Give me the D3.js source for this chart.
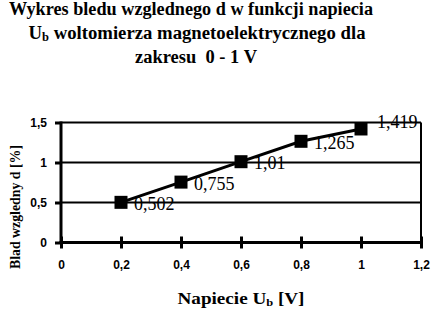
<!DOCTYPE html>
<html lang="en">
<head>
    <meta charset="UTF-8">
    <title>Wykres bledu wzglednego</title>
    <script type="text/javascript" src="https://cdn.jsdelivr.net/npm/d3@7"></script>
    <style>
        body { margin: 0; background: #fff; }
    </style>
</head>
<body>
<script type="text/javascript">
    var w = 434;
    var h = 311;

    // data
    var voltages = [0.2, 0.4, 0.6, 0.8, 1];
    var errors = [0.502, 0.755, 1.01, 1.265, 1.419];
    var errorLabels = ["0,502", "0,755", "1,01", "1,265", "1,419"];
    var xTicks = [0, 0.2, 0.4, 0.6, 0.8, 1, 1.2];
    var yTicks = [0, 0.5, 1, 1.5];

    var plot = {left: 61, right: 421, top: 122.5, bottom: 242.5};

    var svg = d3.select("body")
        .append("svg")
        .attr("width", w)
        .attr("height", h);

    var xScale = d3.scaleLinear()
        .domain([0, 1.2])
        .range([plot.left, plot.right]);

    var yScale = d3.scaleLinear()
        .domain([0, 1.5])
        .range([plot.bottom, plot.top]);

    var fmt = function (d) {
        return String(d).replace(".", ",");
    };

    // title
    var serif = "'Liberation Serif', 'Times New Roman', serif";
    var title = svg.append("g")
        .attr("font-family", serif)
        .attr("font-weight", "bold")
        .attr("font-size", "18px")
        .attr("text-anchor", "middle");

    title.append("text")
        .attr("x", 191).attr("y", 15)
        .attr("textLength", 364).attr("lengthAdjust", "spacingAndGlyphs")
        .text("Wykres bledu wzglednego d w funkcji napiecia");

    var t2 = title.append("text")
        .attr("x", 197).attr("y", 39)
        .attr("textLength", 337).attr("lengthAdjust", "spacingAndGlyphs");
    t2.append("tspan").text("U");
    t2.append("tspan").attr("font-size", "12px").attr("dy", 2).text("b");
    t2.append("tspan").attr("dy", -2).text(" woltomierza magnetoelektrycznego dla");

    title.append("text")
        .attr("x", 196).attr("y", 63)
        .attr("textLength", 122).attr("lengthAdjust", "spacingAndGlyphs")
        .attr("xml:space", "preserve")
        .text("zakresu  0 - 1 V");

    // gridlines
    svg.append("g")
        .selectAll("line")
        .data(yTicks.slice(1)).enter()
        .append("line")
        .attr("x1", plot.left).attr("x2", plot.right)
        .attr("y1", function (d) { return yScale(d); })
        .attr("y2", function (d) { return yScale(d); })
        .attr("stroke", "black")
        .attr("stroke-width", 2);

    // right border
    svg.append("line")
        .attr("x1", plot.right).attr("x2", plot.right)
        .attr("y1", plot.top).attr("y2", plot.bottom)
        .attr("stroke", "black")
        .attr("stroke-width", 2);

    // axes
    var xAxis = d3.axisBottom(xScale)
        .tickValues(xTicks)
        .tickSize(6)
        .tickPadding(12)
        .tickFormat(fmt);

    var gx = svg.append("g")
        .attr("transform", "translate(0," + plot.bottom + ")")
        .call(xAxis);
    gx.select(".domain").remove();
    gx.selectAll(".tick line")
        .attr("y1", -6)
        .attr("stroke-width", 3);

    svg.append("line")
        .attr("x1", plot.left - 1.5).attr("x2", plot.right + 1)
        .attr("y1", plot.bottom).attr("y2", plot.bottom)
        .attr("stroke", "black")
        .attr("stroke-width", 3);

    var yAxis = d3.axisLeft(yScale)
        .tickValues(yTicks)
        .tickSize(6)
        .tickPadding(8)
        .tickFormat(fmt);

    var gy = svg.append("g")
        .attr("transform", "translate(" + plot.left + ",0)")
        .call(yAxis);
    gy.select(".domain").remove();
    gy.selectAll(".tick line").attr("stroke-width", 3);

    svg.append("line")
        .attr("x1", plot.left).attr("x2", plot.left)
        .attr("y1", plot.top - 1).attr("y2", plot.bottom + 1.5)
        .attr("stroke", "black")
        .attr("stroke-width", 3);

    svg.selectAll(".tick text")
        .attr("font-family", "'Liberation Sans', Arial, sans-serif")
        .attr("font-weight", "bold")
        .attr("font-size", "12px")
        .attr("fill", "black");

    // axis titles
    var xt = svg.append("text")
        .attr("x", 241).attr("y", 304)
        .attr("text-anchor", "middle")
        .attr("font-family", serif)
        .attr("font-weight", "bold")
        .attr("font-size", "17px")
        .attr("textLength", 127).attr("lengthAdjust", "spacingAndGlyphs");
    xt.append("tspan").text("Napiecie U");
    xt.append("tspan").attr("font-size", "11px").attr("dy", 2).text("b");
    xt.append("tspan").attr("dy", -2).text(" [V]");

    svg.append("text")
        .attr("transform", "translate(20,207) rotate(-90)")
        .attr("text-anchor", "middle")
        .attr("font-family", serif)
        .attr("font-weight", "bold")
        .attr("font-size", "15px")
        .attr("textLength", 124).attr("lengthAdjust", "spacingAndGlyphs")
        .text("Blad wzgledny d [%]");

    // series
    var points = voltages.map(function (v, i) {
        return {x: v, y: errors[i], label: errorLabels[i]};
    });

    var line = d3.line()
        .x(function (d) { return xScale(d.x); })
        .y(function (d) { return yScale(d.y); });

    svg.append("path")
        .datum(points)
        .attr("d", line)
        .attr("fill", "none")
        .attr("stroke", "black")
        .attr("stroke-width", 3);

    svg.selectAll("rect.marker")
        .data(points).enter()
        .append("rect")
        .attr("class", "marker")
        .attr("x", function (d) { return xScale(d.x) - 6.5; })
        .attr("y", function (d) { return yScale(d.y) - 6.5; })
        .attr("width", 13)
        .attr("height", 13)
        .attr("fill", "black");

    svg.selectAll("text.label")
        .data(points).enter()
        .append("text")
        .attr("class", "label")
        .text(function (d) { return d.label; })
        .attr("x", function (d) {
            var py = yScale(d.y);
            return xScale(d.x) + (py - plot.top < 10 ? 16 : 13);
        })
        .attr("y", function (d) {
            var py = yScale(d.y);
            // a label right at the top edge is pushed up onto the border
            return py - plot.top < 10 ? plot.top + 5.5 : py + 7.5;
        })
        .attr("font-family", serif)
        .attr("font-size", "18px")
        .attr("fill", "black");
</script>
</body>
</html>
